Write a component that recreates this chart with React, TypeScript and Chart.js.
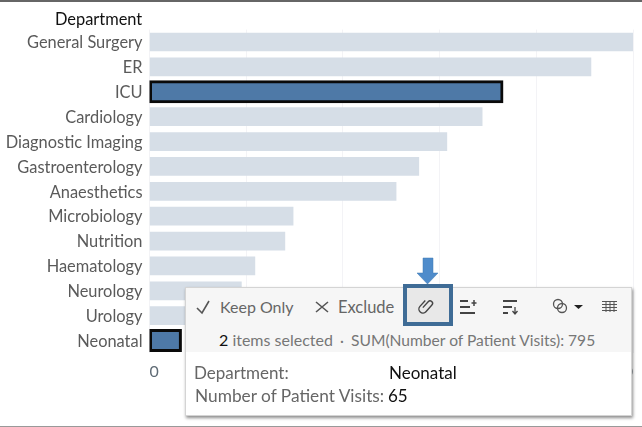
import React, { useEffect, useRef } from "react";
import { Chart, registerables } from "chart.js";

Chart.register(...registerables);

const departments = ["General Surgery", "ER", "ICU", "Cardiology", "Diagnostic Imaging", "Gastroenterology", "Anaesthetics", "Microbiology", "Nutrition", "Haematology", "Neurology", "Urology", "Neonatal"];
const visits = [1000, 913, 730, 688, 615, 557, 510, 297, 280, 218, 190, 150, 65];
const selected = ["ICU", "Neonatal"];
const xTicks = [0, 200, 400, 600, 800, 1000];

const FONT = "Lato, 'Liberation Sans', sans-serif";

const abs = (x: number, y: number, size: number, color: string, extra: any = {}): React.CSSProperties => ({
  position: "absolute", left: x, top: y, fontSize: size, color, fontFamily: FONT, lineHeight: "20px", whiteSpace: "pre", ...extra,
});

export default function App() {
  const ref = useRef<HTMLCanvasElement>(null);
  useEffect(() => {
    const chart = new Chart(ref.current!, {
      type: "bar",
      data: {
        labels: departments,
        datasets: [
          {
            data: visits.map((v, i) => (selected.includes(departments[i]) ? null : v)),
            backgroundColor: "#d6dee7",
            barThickness: 18,
            grouped: false,
          } as any,
          {
            data: visits.map((v, i) => (selected.includes(departments[i]) ? v : null)),
            backgroundColor: "#4e79a7",
            borderColor: "#0a0a0a",
            borderWidth: 3,
            borderSkipped: false,
            barThickness: 21,
            inflateAmount: 1,
            grouped: false,
          } as any,
        ],
      },
      options: {
        indexAxis: "y",
        animation: false,
        responsive: false,
        layout: { padding: { top: 29.6, right: 7.5, left: 0, bottom: 0 } },
        plugins: { legend: { display: false }, tooltip: { enabled: false } },
        scales: {
          x: {
            min: 0,
            max: 1000,
            afterFit: (s: any) => { s.height = 74; },
            afterBuildTicks: (s: any) => { s.ticks = xTicks.map((value) => ({ value })); },
            grid: { color: "#f3f3f6", drawTicks: false },
            border: { display: false },
            ticks: { align: "inner", font: { family: FONT, size: 16 }, color: "#5f6b75", padding: 9, maxRotation: 0 },
          },
          y: {
            afterFit: (s: any) => { s.width = 149.5; },
            grid: { display: false, drawTicks: false },
            border: { display: false },
            ticks: { font: { family: FONT, size: 16.4 }, color: "#5a5a5a", padding: 7, autoSkip: false, labelOffset: 1 },
          },
        },
      } as any,
    });
    return () => chart.destroy();
  }, []);

  const gray = "#666";
  return (
    <div style={{ position: "fixed", left: 0, top: 0, width: 642, height: 427, overflow: "hidden", background: "#fff" }}>
      <canvas ref={ref} width={642} height={427} style={{ display: "block", width: 642, height: 427 }} />
      <div style={{ position: "absolute", left: 0, top: 0, width: 642, height: 2, background: "#666" }} />
      <div style={{ position: "absolute", left: 0, top: 426, width: 642, height: 1, background: "#999" }} />
      <div style={abs(55, 9, 16.4, "#111")}>Department</div>

      {/* selection popup */}
      <div style={{ position: "absolute", left: 185, top: 287, width: 447, height: 129, background: "#fff", boxShadow: "1px 2px 3px rgba(0,0,0,0.45)", border: "1px solid #d4d4d4", boxSizing: "border-box" }}>
        <div style={{ height: 64, background: "#f6f6f6" }} />
      </div>
      <svg width={642} height={427} style={{ position: "absolute", left: 0, top: 0 }}>
        <path d="M197 308 L202 313 L209 301" fill="none" stroke="#555" strokeWidth={1.6} />
        <path d="M316 302 L328 312 M328 302 L316 312" fill="none" stroke="#555" strokeWidth={1.6} />
        <rect x={405} y={286} width={46} height={38} fill="#e8e8e8" stroke="#3f6c96" strokeWidth={4} />
        <path d="M423 258 H433 V273 H438 L427.500 284 L417 273 H423 Z" fill="#4f8ccb" stroke="#3f78b0" strokeWidth={0.5} />
        <g transform="rotate(42 427 306)" fill="none" stroke="#444" strokeWidth={1.4}>
          <path d="M425 310 V302 A2.500 2.500 0 0 1 430 302 V311 A4 4 0 0 1 422 311 V303" />
        </g>
        <path d="M460 301 H468 M460 307 H470 M460 313 H475" stroke="#444" strokeWidth={2} />
        <path d="M474 300 V306 M471.500 303 H476.500" stroke="#444" strokeWidth={1.5} />
        <path d="M503 301 H517 M503 307 H512 M503 313 H508" stroke="#444" strokeWidth={2} />
        <path d="M515 307 V313 M512.500 311 L515 314 L517.500 311" fill="none" stroke="#444" strokeWidth={1.3} />
        <circle cx={558} cy={304} r={4.500} fill="none" stroke="#555" strokeWidth={1.3} />
        <circle cx={562} cy={308} r={4.500} fill="none" stroke="#555" strokeWidth={1.3} />
        <path d="M574 305 H583 L578.500 309 Z" fill="#222" />
        <path d="M602 301.500 H617 M602 304.500 H617 M602 307.500 H617 M602 310.500 H617 M606 301 V312 M610 301 V312 M614 301 V312" stroke="#555" strokeWidth={1} />
      </svg>
      <div style={abs(220, 297, 16, gray)}>Keep Only</div>
      <div style={abs(338, 297, 16.5, gray)}>Exclude</div>
      <div style={abs(219, 330, 16, "#777")}><span style={{ color: "#111" }}>2</span> items selected</div>
      <div style={abs(340, 330, 15, "#777")}>·</div>
      <div style={abs(351, 330, 15.6, "#777")}>SUM(Number of Patient Visits): 795</div>
      <div style={abs(194, 363, 17, gray)}>Department:</div>
      <div style={abs(389, 363, 17, "#111")}>Neonatal</div>
      <div style={abs(195, 386, 17.3, gray)}>Number of Patient Visits:</div>
      <div style={abs(388, 386, 17, "#111")}>65</div>
    </div>
  );
}
